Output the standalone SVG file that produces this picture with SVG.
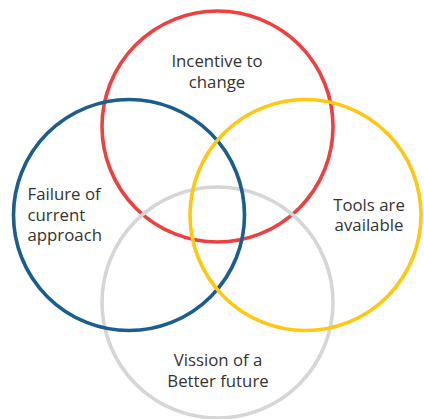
<svg xmlns="http://www.w3.org/2000/svg" width="424" height="419" viewBox="0 0 424 419">
<style>
.c{fill:none;stroke-width:3.6}
.t{font-family:"Open Sans","Noto Sans","Liberation Sans",sans-serif;font-size:16.8px;fill:#333333}
.m{text-anchor:middle}
</style>
<rect width="424" height="419" fill="#ffffff"/>
<g id="incentive">
<circle class="c" cx="217.5" cy="126.5" r="115.5" stroke="#EE4040"/>
<text class="t m" x="217" y="66.5">Incentive to</text>
<text class="t m" x="217" y="87.5">change</text>
</g>
<g id="vision">
<circle class="c" cx="217.5" cy="302.5" r="115.5" stroke="#D6D6D6"/>
<text class="t m" x="218" y="365.5">Vission of a</text>
<text class="t m" x="218" y="386.5">Better future</text>
</g>
<g id="failure">
<circle class="c" cx="129" cy="215" r="115.5" stroke="#1B5E8D"/>
<text class="t" x="27.5" y="200">Failure of</text>
<text class="t" x="27.5" y="220.5">current</text>
<text class="t" x="27.5" y="240.5">approach</text>
</g>
<g id="tools">
<circle class="c" cx="305.5" cy="215" r="115.5" stroke="#FFC70F"/>
<text class="t m" x="369" y="211">Tools are</text>
<text class="t m" x="369" y="231">available</text>
</g>
<g id="connectors"></g>
</svg>
